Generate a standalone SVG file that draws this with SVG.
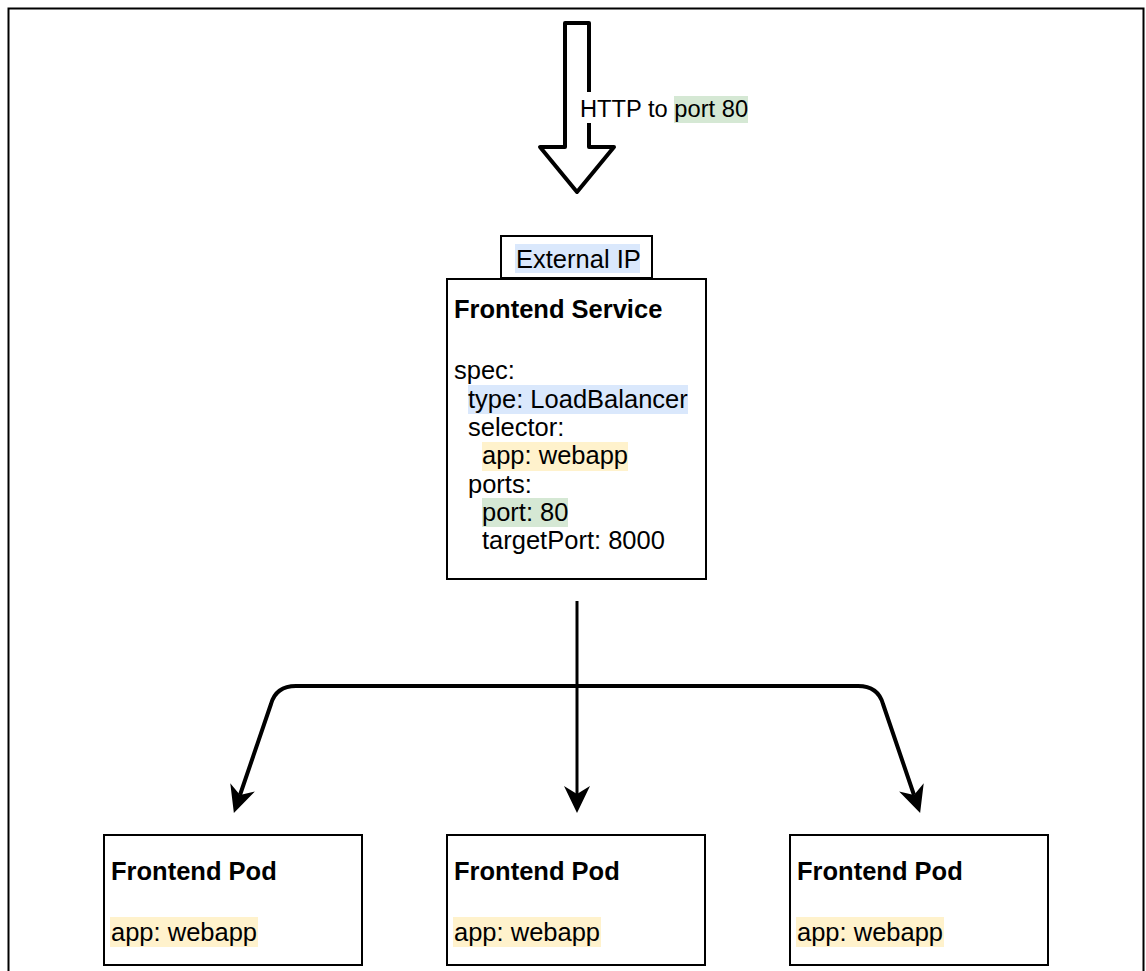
<svg xmlns="http://www.w3.org/2000/svg" width="1146" height="971" viewBox="0 0 1146 971">
<defs>
<style>
.box{fill:#fff;stroke:#000;stroke-width:2}
.t{font-family:"Liberation Sans",Arial,Helvetica,sans-serif;font-size:25.5px;fill:#000}
.b{font-weight:bold}
.lbl{font-family:"Liberation Sans",Arial,Helvetica,sans-serif;font-size:23.7px;fill:#000}
.hb{fill:#dae8fc}
.hy{fill:#fff2cc}
.hg{fill:#d5e8d4}
.edge{fill:none;stroke:#000;stroke-width:4;stroke-linejoin:round}
</style>
<marker id="arr" viewBox="-28 -14 30 28" refX="-19" refY="0" markerWidth="30" markerHeight="28" markerUnits="userSpaceOnUse" orient="auto">
<path d="M0,0 L-27,-13 L-19,0 L-27,13 Z" fill="#000"/>
</marker>
</defs>
<rect x="0" y="0" width="1146" height="971" fill="#fff"/>
<rect x="8.5" y="8.5" width="1135" height="1000" fill="none" stroke="#000" stroke-width="2"/>

<g id="ingress">
<polygon points="565,23 589,23 589,147 614,147 577,192 540,147 565,147" fill="#fff" stroke="#000" stroke-width="4" stroke-linejoin="round"/>
<rect x="578" y="92" width="97" height="31" fill="#fff"/>
<rect x="674" y="96" width="74" height="27" class="hg"/>
<text class="lbl" x="580" y="117">HTTP to <tspan>port 80</tspan></text>
</g>

<g id="external-ip">
<rect class="box" x="501" y="236" width="151" height="42"/>
<rect class="hb" x="515" y="244" width="125" height="29"/>
<text class="t" x="516" y="268">External IP</text>
</g>

<g id="frontend-service">
<rect class="box" x="447" y="279" width="259" height="300"/>
<rect class="hb" x="468" y="385" width="220" height="29"/>
<rect class="hy" x="482" y="442" width="146" height="29"/>
<rect class="hg" x="482" y="498" width="86" height="29"/>
<text class="t b" x="454" y="318">Frontend Service</text>
<text class="t" x="454" y="379">spec:</text>
<text class="t" x="468" y="408">type: LoadBalancer</text>
<text class="t" x="468" y="436">selector:</text>
<text class="t" x="482" y="464">app: webapp</text>
<text class="t" x="468" y="493">ports:</text>
<text class="t" x="482" y="521">port: 80</text>
<text class="t" x="482" y="549">targetPort: 8000</text>
</g>

<g id="connectors">
<path class="edge" d="M577,686 L296,686 Q276,686 271,704 L240,795" marker-end="url(#arr)"/>
<path class="edge" d="M577,686 L858,686 Q878,686 883,704 L914,795" marker-end="url(#arr)"/>
<path class="edge" style="stroke-width:3" d="M577,601 L577,794" marker-end="url(#arr)"/>
</g>

<g id="pod-1">
<rect class="box" x="104" y="835" width="258" height="130"/>
<rect class="hy" x="110" y="917" width="148" height="30"/>
<text class="t b" x="111" y="880">Frontend Pod</text>
<text class="t" x="111" y="941">app: webapp</text>
</g>
<g id="pod-2">
<rect class="box" x="447" y="835" width="258" height="130"/>
<rect class="hy" x="453" y="917" width="148" height="30"/>
<text class="t b" x="454" y="880">Frontend Pod</text>
<text class="t" x="454" y="941">app: webapp</text>
</g>
<g id="pod-3">
<rect class="box" x="790" y="835" width="258" height="130"/>
<rect class="hy" x="796" y="917" width="148" height="30"/>
<text class="t b" x="797" y="880">Frontend Pod</text>
<text class="t" x="797" y="941">app: webapp</text>
</g>
</svg>
